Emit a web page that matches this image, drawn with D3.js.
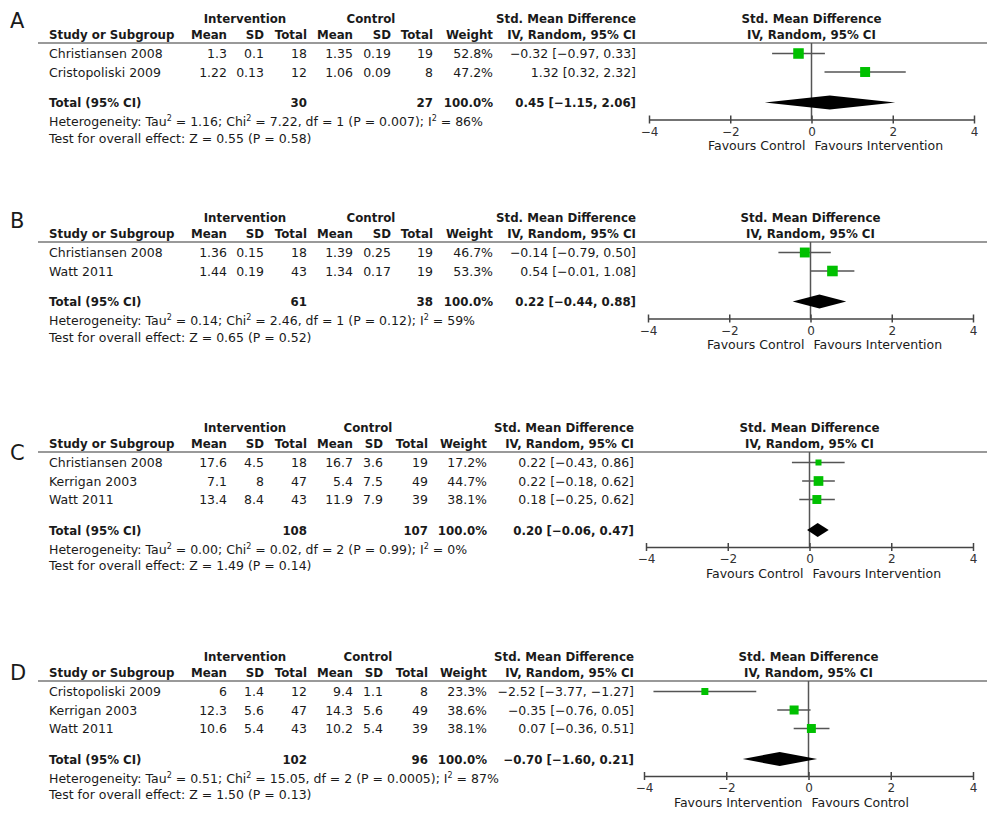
<!DOCTYPE html>
<html>
<head>
<meta charset="utf-8">
<script src="https://cdn.jsdelivr.net/npm/d3@7"></script>
<style>
  body { margin: 0; background: #fff; }
  text { font-family: "DejaVu Sans", sans-serif; fill: #1a1a1a; }
</style>
</head>
<body>
<div id="chart"></div>
<script>
// forest plots A-D
const panelLabels = ["A", "B", "C", "D"];
const studyNames = [
  ["Christiansen 2008", "Cristopoliski 2009"],
  ["Christiansen 2008", "Watt 2011"],
  ["Christiansen 2008", "Kerrigan 2003", "Watt 2011"],
  ["Cristopoliski 2009", "Kerrigan 2003", "Watt 2011"]
];
const intMean = [[1.3, 1.22], [1.36, 1.44], [17.6, 7.1, 13.4], [6, 12.3, 10.6]];
const intSD = [[0.1, 0.13], [0.15, 0.19], [4.5, 8, 8.4], [1.4, 5.6, 5.4]];
const intN = [[18, 12], [18, 43], [18, 47, 43], [12, 47, 43]];
const ctlMean = [[1.35, 1.06], [1.39, 1.34], [16.7, 5.4, 11.9], [9.4, 14.3, 10.2]];
const ctlSD = [[0.19, 0.09], [0.25, 0.17], [3.6, 7.5, 7.9], [1.1, 5.6, 5.4]];
const ctlN = [[19, 8], [19, 19], [19, 49, 39], [8, 49, 39]];
const weights = [[52.8, 47.2], [46.7, 53.3], [17.2, 44.7, 38.1], [23.3, 38.6, 38.1]];
const smd = [[-0.32, 1.32], [-0.14, 0.54], [0.22, 0.22, 0.18], [-2.52, -0.35, 0.07]];
const ciLow = [[-0.97, 0.32], [-0.79, -0.01], [-0.43, -0.18, -0.25], [-3.77, -0.76, -0.36]];
const ciHigh = [[0.33, 2.32], [0.50, 1.08], [0.86, 0.62, 0.62], [-1.27, 0.05, 0.51]];

const totalInt = [30, 61, 108, 102];
const totalCtl = [27, 38, 107, 96];
const pooled = [0.45, 0.22, 0.20, -0.70];
const pooledLow = [-1.15, -0.44, -0.06, -1.60];
const pooledHigh = [2.06, 0.88, 0.47, 0.21];

const tau2 = [1.16, 0.14, 0.00, 0.51];
const chi2 = [7.22, 2.46, 0.02, 15.05];
const dfHet = [1, 1, 2, 2];
const pHet = ["0.007", "0.12", "0.99", "0.0005"];
const i2 = [86, 59, 0, 87];
const zVal = [0.55, 0.65, 1.49, 1.50];
const pZ = [0.58, 0.52, 0.14, 0.13];

const favLeft = ["Favours Control", "Favours Control", "Favours Control", "Favours Intervention"];
const favRight = ["Favours Intervention", "Favours Intervention", "Favours Intervention", "Favours Control"];
const tickVals = [-4, -2, 0, 2, 4];

// layout
const W = 1000, H = 832;
const lineY = [43, 242, 452, 681];
const letterDy = [-15, -14, 8, -1];
const colsAB = [227, 264, 307, 353, 391, 433, 493, 636];
const colsCD = [227, 264, 307, 353, 383, 428, 487, 634];
const ctlCenters = [371, 371, 368, 368];
const plotRange = [[649, 974], [648, 973], [646, 973], [644, 973]];
const fs = 12.5, fsBold = 11.8;

const f2 = d3.format(".2f");
const f1 = d3.format(".1f");
const ci = (m, l, h) => `${f2(m)} [${f2(l)}, ${f2(h)}]`;

const svg = d3.select('#chart').append('svg')
  .attr('width', W)
  .attr('height', H)
  .attr('viewBox', `0 0 ${W} ${H}`);

const sqSize = d3.scaleSqrt().domain([0, 100]).range([0, 14.5]);

function txt(g, x, y, s, anchor, bold, size) {
  return g.append('text')
    .attr('x', x).attr('y', y)
    .attr('text-anchor', anchor || 'start')
    .style('font-size', (size || (bold ? fsBold : fs)) + 'px')
    .style('font-weight', bold ? 'bold' : 'normal')
    .text(s);
}

// "^2" marks a superscript 2
function supLine(g, x, y, parts) {
  const t = g.append('text').attr('x', x).attr('y', y).style('font-size', fs + 'px');
  let back = 0;
  parts.forEach(p => {
    if (p === '^2') {
      t.append('tspan').attr('dy', -5).style('font-size', '8px').text('2');
      back = 5;
    } else {
      t.append('tspan').attr('dy', back).text(p);
      back = 0;
    }
  });
}

panelLabels.forEach((lab, p) => {
  const g = svg.append('g').attr('class', 'panel');
  const L = lineY[p];
  const cols = p < 2 ? colsAB : colsCD;
  const n = studyNames[p].length;

  const yRow = d3.scaleLinear().domain([0, 1]).range([L + 15, L + 33.5]);
  const yTotal = yRow(n - 1) + 30.5;
  const yHet = yTotal + 19;
  const yTest = yHet + 16.5;
  const yAxis = yTotal + 12.5;

  const x = d3.scaleLinear().domain([-4, 4]).range(plotRange[p]);

  // panel letter
  txt(g, 10, L + letterDy[p], lab, 'start', false, 21);

  // headers
  txt(g, 245, L - 20, 'Intervention', 'middle', true);
  txt(g, ctlCenters[p], L - 20, 'Control', 'middle', true);
  txt(g, cols[7], L - 20, 'Std. Mean Difference', 'end', true);
  txt(g, x(0), L - 20, 'Std. Mean Difference', 'middle', true);

  txt(g, 49, L - 4, 'Study or Subgroup', 'start', true);
  ['Mean', 'SD', 'Total', 'Mean', 'SD', 'Total', 'Weight', 'IV, Random, 95% CI']
    .forEach((h, i) => txt(g, cols[i], L - 4, h, 'end', true));
  txt(g, x(0), L - 4, 'IV, Random, 95% CI', 'middle', true);

  g.append('line')
    .attr('x1', 38).attr('x2', 987)
    .attr('y1', L).attr('y2', L)
    .style('stroke', '#777').style('stroke-width', 1.6);

  // study rows
  studyNames[p].forEach((name, i) => {
    const y = yRow(i);
    txt(g, 49, y, name);
    const vals = [intMean[p][i], intSD[p][i], intN[p][i], ctlMean[p][i], ctlSD[p][i], ctlN[p][i],
      f1(weights[p][i]) + '%', ci(smd[p][i], ciLow[p][i], ciHigh[p][i])];
    vals.forEach((v, j) => txt(g, cols[j], y, String(v), 'end'));
  });

  // totals
  txt(g, 49, yTotal, 'Total (95% CI)', 'start', true);
  txt(g, cols[2], yTotal, totalInt[p], 'end', true);
  txt(g, cols[5], yTotal, totalCtl[p], 'end', true);
  txt(g, cols[6], yTotal, '100.0%', 'end', true);
  txt(g, cols[7], yTotal, ci(pooled[p], pooledLow[p], pooledHigh[p]), 'end', true);

  supLine(g, 49, yHet, ['Heterogeneity: Tau', '^2', ` = ${f2(tau2[p])}; Chi`, '^2',
    ` = ${f2(chi2[p])}, df = ${dfHet[p]} (P = ${pHet[p]}); I`, '^2', ` = ${i2[p]}%`]);
  txt(g, 49, yTest, `Test for overall effect: Z = ${f2(zVal[p])} (P = ${f2(pZ[p])})`);

  // zero line
  g.append('line')
    .attr('x1', x(0)).attr('x2', x(0))
    .attr('y1', L).attr('y2', yAxis)
    .style('stroke', '#555').style('stroke-width', 1.5);

  // CI lines and squares
  studyNames[p].forEach((name, i) => {
    const yc = yRow(i) - 4.5;
    g.append('line')
      .attr('x1', x(ciLow[p][i])).attr('x2', x(ciHigh[p][i]))
      .attr('y1', yc).attr('y2', yc)
      .style('stroke', '#555').style('stroke-width', 1.5);
    const s = sqSize(weights[p][i]);
    g.append('rect')
      .attr('x', x(smd[p][i]) - s / 2).attr('y', yc - s / 2)
      .attr('width', s).attr('height', s)
      .style('fill', '#00c000');
  });

  // diamond
  const yd = yTotal - 4.5;
  g.append('path')
    .attr('d', `M${x(pooledLow[p])},${yd} L${x(pooled[p])},${yd - 7} L${x(pooledHigh[p])},${yd} L${x(pooled[p])},${yd + 7} Z`)
    .style('fill', '#000');

  // axis
  const ax = g.append('g')
    .attr('transform', `translate(0,${yAxis})`)
    .call(d3.axisBottom(x).tickValues(tickVals).tickSizeInner(4).tickSizeOuter(0).tickFormat(d3.format('d')));
  ax.select('.domain').style('stroke', '#444').style('stroke-width', 1.5);
  ax.selectAll('.tick line').attr('y1', -4).style('stroke', '#444').style('stroke-width', 1.5);
  ax.selectAll('.tick text')
    .attr('y', 0)
    .attr('dy', '16px')
    .style('font-family', '"DejaVu Sans", sans-serif')
    .style('font-size', '12px')
    .style('fill', '#333');

  txt(g, x(0) - 6, yAxis + 30.5, favLeft[p], 'end');
  txt(g, x(0) + 3, yAxis + 30.5, favRight[p], 'start');
});
</script>
</body>
</html>
